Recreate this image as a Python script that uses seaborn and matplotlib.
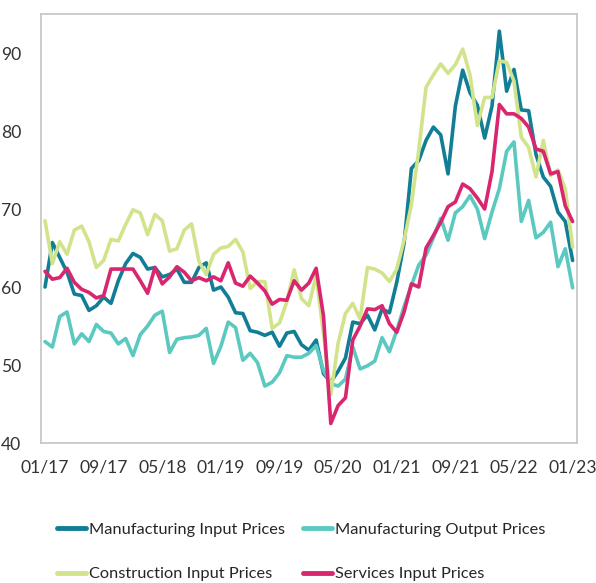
import matplotlib
matplotlib.use("Agg")
import matplotlib.pyplot as plt
import seaborn as sns
import pandas as pd
from matplotlib.lines import Line2D

# ---------------- data ----------------
tick_labels = ["01/17", "09/17", "05/18", "01/19", "09/19", "05/20", "01/21", "09/21", "05/22", "01/23"]
series_names = ["Manufacturing Input Prices", "Manufacturing Output Prices",
                "Construction Input Prices", "Services Input Prices"]

manufacturing_input = [
    60.0, 65.7, 63.8, 61.9, 59.1, 58.9, 57.0, 57.6, 58.7, 57.9,
    60.8, 63.0, 64.3, 63.8, 62.3, 62.5, 61.3, 61.6, 62.3, 60.6,
    60.6, 62.5, 63.1, 59.6, 60.0, 58.7, 56.7, 56.6, 54.4, 54.2,
    53.8, 54.2, 52.4, 54.1, 54.3, 52.6, 51.9, 53.2, 48.9, 47.8,
    49.2, 50.9, 55.5, 55.3, 56.4, 54.5, 57.2, 56.7, 60.6, 65.6,
    75.2, 76.2, 78.8, 80.5, 79.5, 74.5, 83.2, 87.8, 84.9, 83.3,
    79.1, 83.2, 92.8, 85.1, 87.9, 82.7, 82.6, 77.0, 74.1, 72.9,
    69.6, 68.4, 63.4]

manufacturing_output = [
    53.0, 52.3, 56.2, 56.8, 52.7, 54.0, 53.0, 55.2, 54.3, 54.1,
    52.7, 53.4, 51.2, 53.9, 55.0, 56.4, 56.9, 51.6, 53.3, 53.5,
    53.6, 53.8, 54.7, 50.2, 52.4, 55.5, 54.8, 50.6, 51.5, 50.3,
    47.3, 47.8, 49.0, 51.2, 51.0, 51.0, 51.5, 52.5, 49.3, 47.6,
    47.3, 48.2, 52.3, 49.5, 49.9, 50.5, 53.5, 51.7, 54.4, 57.5,
    60.2, 62.8, 64.1, 66.3, 68.8, 66.0, 69.5, 70.3, 71.7, 70.0,
    66.2, 69.6, 72.6, 77.4, 78.6, 68.4, 71.1, 66.3, 67.0, 68.3,
    62.6, 64.9, 59.9]

construction_input = [
    68.5, 63.0, 65.8, 64.2, 67.3, 67.8, 65.8, 62.5, 63.4, 66.1,
    65.9, 68.0, 69.9, 69.5, 66.7, 69.3, 68.5, 64.6, 64.9, 67.3,
    68.1, 63.3, 61.6, 64.2, 65.0, 65.2, 66.1, 64.5, 59.8, 60.7,
    60.7, 54.7, 55.4, 58.1, 62.2, 58.5, 57.6, 61.5, 54.0, 46.2,
    52.8, 56.6, 57.9, 55.9, 62.5, 62.3, 61.8, 60.7, 62.3, 66.0,
    70.6, 77.5, 85.6, 87.2, 88.6, 87.4, 88.5, 90.5, 87.2, 80.7,
    84.3, 84.3, 89.0, 88.8, 86.4, 79.2, 77.9, 74.1, 78.8, 74.3,
    75.0, 72.6, 65.1]

services_input = [
    62.0, 61.0, 61.2, 62.4, 60.6, 59.7, 59.3, 58.6, 58.9, 62.3,
    62.3, 62.3, 62.3, 60.8, 59.2, 62.5, 60.4, 61.3, 62.6, 61.9,
    60.8, 61.2, 60.8, 61.3, 60.8, 63.1, 60.5, 60.1, 61.4, 60.5,
    59.5, 57.8, 58.4, 58.3, 60.8, 59.6, 60.5, 62.4, 56.3, 42.5,
    44.8, 45.8, 53.2, 55.0, 57.2, 57.1, 57.6, 55.3, 54.2, 56.8,
    60.4, 60.0, 65.0, 66.6, 68.3, 70.3, 70.9, 73.2, 72.6, 71.4,
    70.0, 74.8, 83.4, 82.2, 82.2, 81.6, 80.5, 77.7, 77.4, 74.5,
    74.8, 70.4, 68.4]

colors = ["#127E96", "#5CC9C1", "#D1E48B", "#D8266F"]

sns.set_theme(style="white")
plt.rcParams["font.family"] = ["Lato", "DejaVu Sans"]

# ---------------- frame ----------------
all_values = [manufacturing_input, manufacturing_output, construction_input, services_input]
rows = []
for name, vals in zip(series_names, all_values):
    for i, v in enumerate(vals):
        rows.append({"month": i, "value": v, "series": name})
df = pd.DataFrame(rows)

fig = plt.figure(figsize=(5.96, 5.83), dpi=100)
ax = fig.add_axes([41 / 596, 1 - 443 / 583, (577 - 41) / 596, (443 - 14) / 583])

sns.lineplot(data=df, x="month", y="value", hue="series", hue_order=series_names,
             palette=colors, linewidth=2.6, ax=ax, legend=False)

n = len(manufacturing_input)
ax.set_xlim(-0.55, n - 1 + 0.6)
ax.set_ylim(40, 95)
ax.set_xticks(range(0, n, 8))
ax.set_xticklabels(tick_labels)
ax.set_yticks([40, 50, 60, 70, 80, 90])
ax.set_xlabel("")
ax.set_ylabel("")
ax.tick_params(axis="both", length=0, labelsize=12.6, colors="#333333")
ax.tick_params(axis="x", pad=12)
ax.tick_params(axis="y", pad=14)

for s in ax.spines.values():
    s.set_visible(True)
    s.set_color("#C8C8C8")
    s.set_linewidth(1.3)

# legend (rows: MI, MO / CI, SI)
handles = {nm: Line2D([0], [0], color=c, linewidth=3.5) for nm, c in zip(series_names, colors)}
order = [series_names[0], series_names[2], series_names[1], series_names[3]]
fig.legend([handles[o] for o in order], order, loc="upper center",
           bbox_to_anchor=(0.505, 1 - 514 / 583), ncol=2, frameon=False,
           fontsize=11.8, handlelength=1.8, handletextpad=0.15,
           columnspacing=1.1, labelspacing=1.85, borderpad=0)

fig.savefig("out.png", dpi=100)
